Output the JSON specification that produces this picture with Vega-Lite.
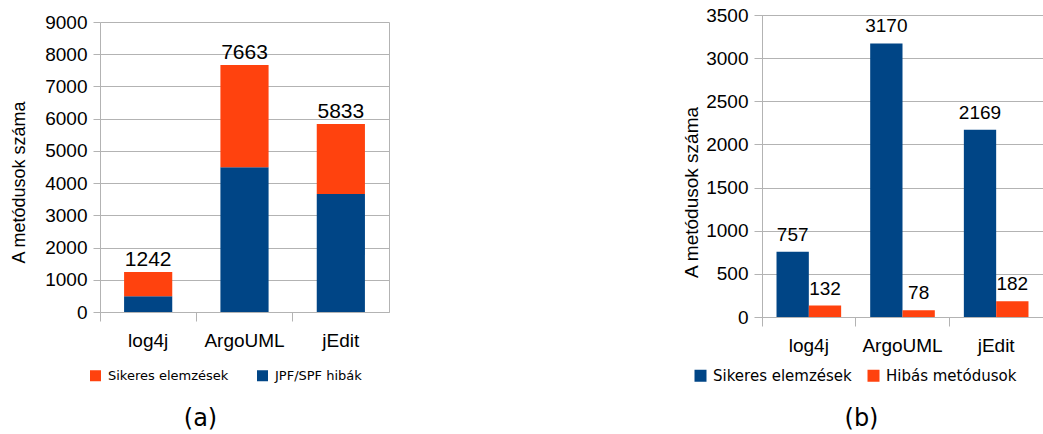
{
  "$schema": "https://vega.github.io/schema/vega-lite/v6.json",
  "datasets": {
    "a": [
      {"tool": "log4j", "series": "JPF/SPF hibák", "count": 485},
      {"tool": "log4j", "series": "Sikeres elemzések", "count": 757},
      {"tool": "ArgoUML", "series": "JPF/SPF hibák", "count": 4493},
      {"tool": "ArgoUML", "series": "Sikeres elemzések", "count": 3170},
      {"tool": "jEdit", "series": "JPF/SPF hibák", "count": 3664},
      {"tool": "jEdit", "series": "Sikeres elemzések", "count": 2169}
    ],
    "b": [
      {"tool": "log4j", "series": "Sikeres elemzések", "count": 757},
      {"tool": "log4j", "series": "Hibás metódusok", "count": 132},
      {"tool": "ArgoUML", "series": "Sikeres elemzések", "count": 3170},
      {"tool": "ArgoUML", "series": "Hibás metódusok", "count": 78},
      {"tool": "jEdit", "series": "Sikeres elemzések", "count": 2169},
      {"tool": "jEdit", "series": "Hibás metódusok", "count": 182}
    ]
  },
  "padding": {"left": 10, "top": 5, "right": 0, "bottom": 0},
  "spacing": 292,
  "resolve": {"scale": {"color": "independent"}, "legend": {"color": "independent"}},
  "hconcat": [
    {
      "width": 289,
      "height": 297,
      "data": {"name": "a"},
      "view": {"stroke": null},
      "resolve": {"axis": {"y": "independent"}},
      "encoding": {
        "x": {
          "field": "tool", "type": "nominal", "sort": ["log4j", "ArgoUML", "jEdit"],
          "scale": {"paddingInner": 0.5, "paddingOuter": 0.25},
          "axis": {"title": "(a)", "titleFont": "DejaVu Sans", "titleFontSize": 24, "titleX": 100, "titleY": 106, "titleBaseline": "middle", "labelFontSize": 19, "labelAngle": 0, "bandPosition": -0.5, "tickSize": 9, "labelPadding": 10, "grid": false}
        },
        "y": {
          "field": "count", "type": "quantitative", "stack": "zero",
          "scale": {"domain": [0, 9000], "nice": false, "range": [297, 7]},
          "axis": {"values": [0, 1000, 2000, 3000, 4000, 5000, 6000, 7000, 8000, 9000], "labelOverlap": false, "format": "d", "title": "A metódusok száma", "titleFontSize": 18, "titleX": -72, "titleY": 167, "labelFontSize": 19, "labelPadding": 6, "tickSize": 7, "grid": true}
        }
      },
      "layer": [
        {
          "mark": {"type": "bar"},
          "encoding": {
            "color": {
              "field": "series", "type": "nominal",
              "scale": {"domain": ["Sikeres elemzések", "JPF/SPF hibák"], "range": ["#ff420e", "#004586"]},
              "legend": {"orient": "none", "legendX": -11, "legendY": 354, "direction": "horizontal", "title": null, "symbolSize": 121, "labelFontSize": 13, "labelOffset": 6, "columnPadding": 27}
            },
            "order": {"field": "series", "sort": "ascending"}
          }
        },
        {
          "transform": [{"aggregate": [{"op": "sum", "field": "count", "as": "count"}], "groupby": ["tool"]}],
          "mark": {"type": "text", "dy": -6, "baseline": "alphabetic", "font": "Liberation Sans", "fontSize": 21, "color": "#000"},
          "encoding": {
            "y": {"field": "count", "type": "quantitative", "stack": "zero", "axis": {"orient": "right", "labels": false, "ticks": false, "grid": false, "title": null, "domain": true}},
            "text": {"field": "count", "type": "quantitative", "format": "d"}
          }
        }
      ]
    },
    {
      "width": 281,
      "height": 302,
      "data": {"name": "b"},
      "encoding": {
        "x": {
          "field": "tool", "type": "nominal", "sort": ["log4j", "ArgoUML", "jEdit"],
          "scale": {"paddingInner": 0.31, "paddingOuter": 0.155},
          "axis": {"title": "(b)", "titleFont": "DejaVu Sans", "titleFontSize": 24, "titleX": 99, "titleY": 101, "titleBaseline": "middle", "labelFontSize": 19, "labelAngle": 0, "bandPosition": -0.224, "tickSize": 9, "labelPadding": 10, "grid": false}
        },
        "xOffset": {"field": "series", "type": "nominal", "scale": {"domain": ["Sikeres elemzések", "Hibás metódusok"], "paddingInner": 0, "paddingOuter": 0}},
        "y": {
          "field": "count", "type": "quantitative",
          "scale": {"domain": [0, 3500], "nice": false},
          "axis": {"values": [0, 500, 1000, 1500, 2000, 2500, 3000, 3500], "labelOverlap": false, "format": "d", "title": "A metódusok száma", "titleFontSize": 19, "titleX": -61, "titleY": 177, "labelFontSize": 19, "labelPadding": 6, "tickSize": 8, "grid": true}
        }
      },
      "layer": [
        {
          "mark": {"type": "bar"},
          "encoding": {
            "color": {
              "field": "series", "type": "nominal",
              "scale": {"domain": ["Sikeres elemzések", "Hibás metódusok"], "range": ["#004586", "#ff420e"]},
              "legend": {"orient": "none", "legendX": -69, "legendY": 353, "direction": "horizontal", "title": null, "symbolSize": 144, "labelFontSize": 15, "labelOffset": 5, "columnPadding": 14}
            }
          }
        },
        {
          "mark": {"type": "text", "dy": -11, "baseline": "alphabetic", "font": "Liberation Sans", "fontSize": 19, "color": "#000"},
          "encoding": {
            "text": {"field": "count", "type": "quantitative", "format": "d"}
          }
        }
      ]
    }
  ],
  "config": {
    "view": {"stroke": "#b3b3b3"},
    "font": "Liberation Sans",
    "axis": {"labelFont": "Liberation Sans", "labelColor": "#000", "tickColor": "#b3b3b3", "domainColor": "#b3b3b3", "gridColor": "#b3b3b3", "titleFont": "Liberation Sans", "titleFontWeight": "normal", "titleColor": "#000"},
    "legend": {"labelFont": "DejaVu Sans", "labelColor": "#000", "symbolType": "square", "symbolStrokeWidth": 0, "symbolOpacity": 1},
    "title": {"font": "DejaVu Sans", "fontWeight": "normal", "color": "#000"}
  }
}
